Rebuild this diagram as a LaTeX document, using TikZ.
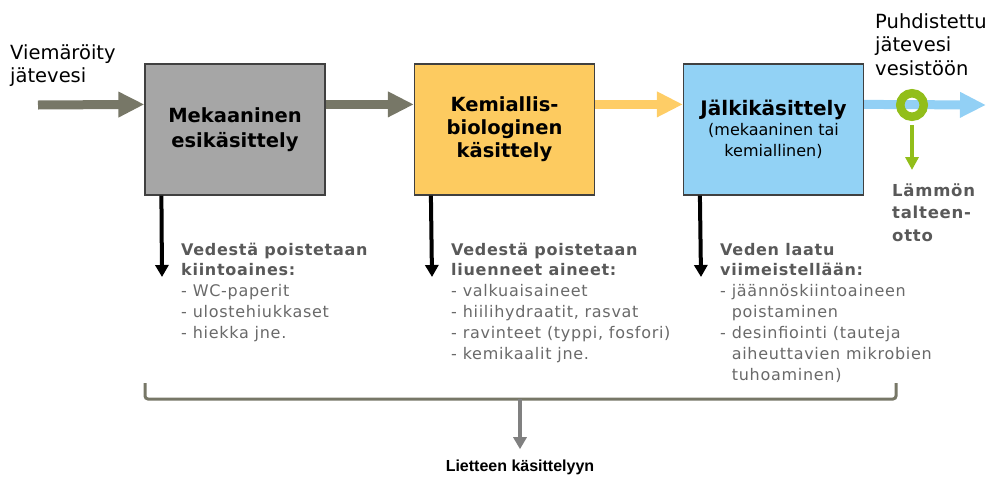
\documentclass[tikz,border=0pt]{standalone}
\usepackage{fontspec}
\setmainfont{DejaVu Sans}
\newfontfamily\narrowfont{Liberation Sans}
\newfontfamily\notefont[LetterSpace=4.5]{DejaVu Sans}
\usetikzlibrary{arrows.meta}
\definecolor{olivegray}{RGB}{119,119,103}
\definecolor{boxgray}{RGB}{166,166,166}
\definecolor{boxyellow}{RGB}{253,203,96}
\definecolor{arryellow}{RGB}{254,205,102}
\definecolor{boxblue}{RGB}{146,210,245}
\definecolor{arrblue}{RGB}{146,208,245}
\definecolor{ringgreen}{RGB}{146,190,26}
\definecolor{headgray}{RGB}{89,89,89}
\definecolor{itemgray}{RGB}{105,105,105}
\definecolor{edgegray}{RGB}{64,64,64}
\definecolor{sludgegray}{RGB}{128,128,128}
\tikzset{
  procbox/.style={draw=edgegray, line width=1.2pt, minimum width=180pt, minimum height=131pt, inner sep=0pt, align=center},
  fatarrow/.style={line width=9pt, -{Triangle[length=26pt,width=24pt]}},
  downarrow/.style={line width=4pt, black, -{Triangle[length=12pt,width=13pt]}},
  greenarrow/.style={line width=4pt, ringgreen, -{Triangle[length=13pt,width=13pt]}},
  sludgearrow/.style={line width=4.5pt, sludgegray, -{Triangle[length=12pt,width=13pt]}},
  bracketline/.style={line width=3pt, olivegray, rounded corners=3pt},
  notes/.style={anchor=base west, inner sep=0pt},
}
\newcommand{\hdtxt}[1]{\textcolor{headgray}{\bfseries #1}}
\newcommand{\ittxt}[1]{\textcolor{itemgray}{#1}}
\begin{document}
\begin{tikzpicture}[x=1pt,y=-1pt]
\useasboundingbox (0,0) rectangle (987,477);
% process boxes
\node[procbox, fill=boxgray, font=\fontsize{19.5}{25}\selectfont\bfseries] (box1) at (235,129.5)
  {Mekaaninen\\esikäsittely};
\node[procbox, fill=boxyellow, font=\fontsize{19.5}{23}\selectfont\bfseries] (box2) at (504.5,129.5)
  {Kemiallis-\\biologinen\\käsittely};
\node[procbox, fill=boxblue, font=\fontsize{16}{21}\selectfont] (box3) at (773.5,129.5)
  {{\fontsize{20}{23}\selectfont\bfseries Jälkikäsittely}\\[-1pt]
   (mekaaninen tai\\kemiallinen)};
% input / output labels
\node[notes] (inlbl) at (10,59) {\fontsize{19.5}{23}\selectfont\begin{tabular}[t]{@{}l@{}}
Viemäröity\\jätevesi\end{tabular}};
\node[notes] (outlbl) at (875,28) {\fontsize{19.5}{23.5}\selectfont\begin{tabular}[t]{@{}l@{}}
Puhdistettu\\jätevesi\\vesistöön\end{tabular}};
% main flow arrows
\coordinate (inStart) at (38,105);
\draw[fatarrow, olivegray] (inStart) -- ([yshift=-41pt]box1.north west);
\draw[fatarrow, olivegray] ([yshift=-41pt]box1.north east) -- ([yshift=-41pt]box2.north west);
\draw[fatarrow, arryellow] ([yshift=-41pt]box2.north east) -- ([yshift=-41pt]box3.north west);
\coordinate (outEnd) at (986,105);
\draw[fatarrow, arrblue] ([yshift=-41pt]box3.north east) -- (outEnd);
% heat recovery ring
\node[circle, draw=ringgreen, line width=8.5pt, minimum size=23.5pt, inner sep=0pt] (ring) at (912,105) {};
\coordinate (heatEnd) at (912,170);
\draw[greenarrow] ([yshift=-4pt]ring.south) -- (heatEnd);
\node[notes] (heat) at (892,196) {\notefont\fontsize{16.5}{22.5}\selectfont\bfseries\color{headgray}\begin{tabular}[t]{@{}l@{}}
Lämmön\\talteen-\\otto\end{tabular}};
% down arrows
\coordinate (d1) at (162,277);
\coordinate (d2) at (432,277);
\coordinate (d3) at (701,277);
\draw[downarrow] ([xshift=17pt]box1.south west) -- (d1);
\draw[downarrow] ([xshift=17pt]box2.south west) -- (d2);
\draw[downarrow] ([xshift=17pt]box3.south west) -- (d3);
% notes
\node[notes] (n1) at (181,255) {\notefont\fontsize{16}{21}\selectfont\begin{tabular}[t]{@{}l@{}}
\hdtxt{Vedestä poistetaan}\\[-1pt]
\hdtxt{kiintoaines:}\\
\ittxt{- WC-paperit}\\
\ittxt{- ulostehiukkaset}\\
\ittxt{- hiekka jne.}
\end{tabular}};
\node[notes] (n2) at (451,255) {\notefont\fontsize{16}{21}\selectfont\begin{tabular}[t]{@{}l@{}}
\hdtxt{Vedestä poistetaan}\\[-1pt]
\hdtxt{liuenneet aineet:}\\
\ittxt{- valkuaisaineet}\\
\ittxt{- hiilihydraatit, rasvat}\\
\ittxt{- ravinteet (typpi, fosfori)}\\
\ittxt{- kemikaalit jne.}
\end{tabular}};
\node[notes] (n3) at (720,255) {\notefont\fontsize{16}{21}\selectfont\begin{tabular}[t]{@{}l@{}}
\hdtxt{Veden laatu}\\[-1pt]
\hdtxt{viimeistellään:}\\
\ittxt{- jäännöskiintoaineen}\\
\ittxt{\phantom{- }poistaminen}\\
\ittxt{- desinfiointi (tauteja}\\
\ittxt{\phantom{- }aiheuttavien mikrobien}\\
\ittxt{\phantom{- }tuhoaminen)}
\end{tabular}};
% bracket
\coordinate (bL) at (145,383);
\coordinate (bR) at (896,383);
\coordinate (bMid) at (520,399);
\draw[bracketline] (bL) -- (bL |- bMid) -- (bR |- bMid) -- (bR);
\node[inner sep=0pt, anchor=base, font=\narrowfont\fontsize{16}{18}\selectfont\bfseries] (sludge) at (520,471) {Lietteen käsittelyyn};
\draw[sludgearrow] (bMid) -- ([yshift=10pt]sludge.north);
\end{tikzpicture}
\end{document}
